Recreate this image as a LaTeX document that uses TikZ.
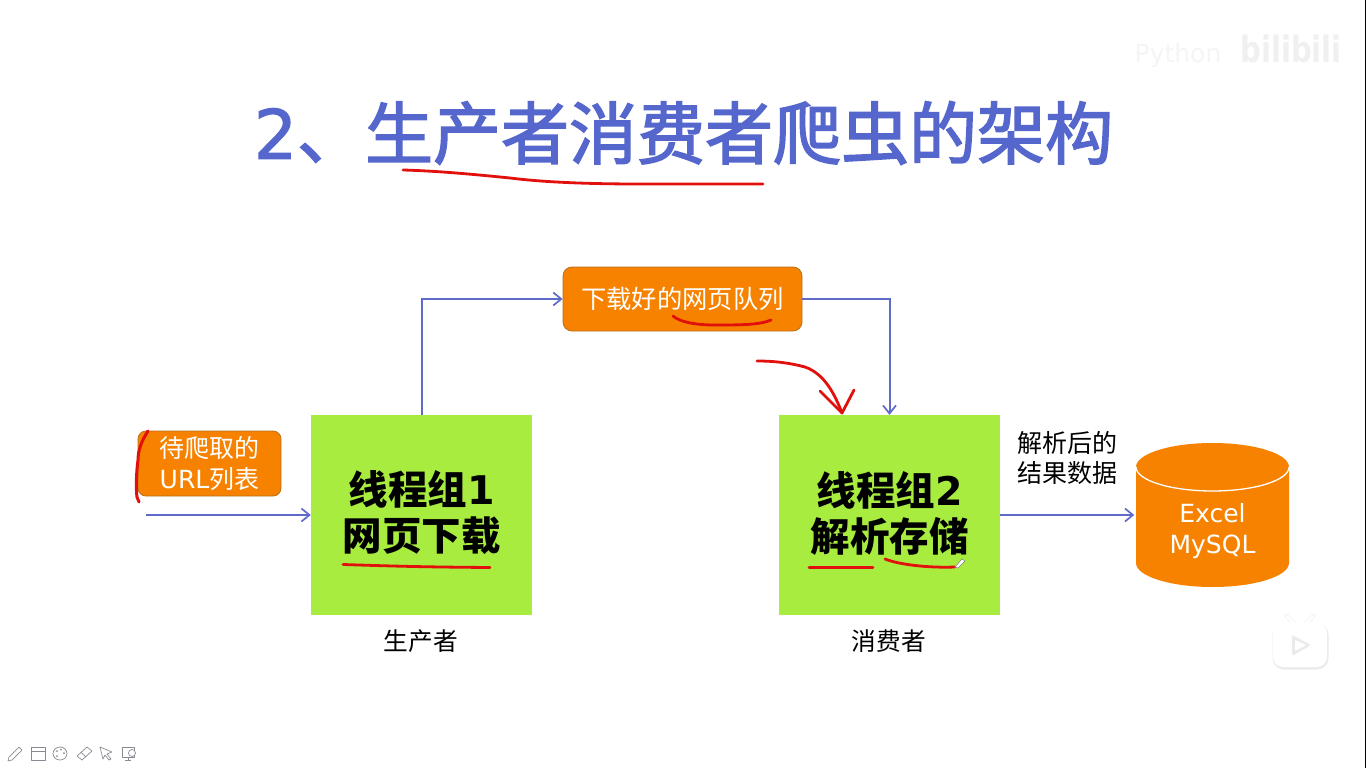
\documentclass[tikz,border=0pt]{standalone}
\usepackage{fontspec}
\usetikzlibrary{arrows.meta}
\setmainfont{Noto Sans CJK SC}
\newfontfamily\latf{DejaVu Sans}
\newfontfamily\titlef[FakeBold=2.2]{Noto Sans CJK SC}
\newfontfamily\titlelat[FakeBold=1.6]{DejaVu Sans}
\newcommand{\lat}[1]{{\latf #1}}
\definecolor{orangeb}{HTML}{F78200}
\definecolor{orangeline}{HTML}{B8701E}
\definecolor{greenb}{HTML}{A8EC40}
\definecolor{bluea}{HTML}{5F6BC8}
\definecolor{titleb}{HTML}{5566CC}
\definecolor{scrib}{HTML}{E2100C}
\definecolor{icong}{HTML}{8A8A92}
\tikzset{
  flow/.style={draw=bluea,line width=2pt,-{Straight Barb[length=8pt,width=13pt,line width=1.7pt]}},
  greenbox/.style={fill=greenb,minimum width=221pt,minimum height=200pt,inner sep=0pt},
  boxtext/.style={inner sep=0pt,align=center,font=\fontsize{39.5}{46}\selectfont\bfseries},
  orangebox/.style={fill=orangeb,draw=orangeline,line width=0.8pt,rounded corners=9pt,inner sep=0pt,align=center,text=white,font=\fontsize{25.3}{31}\selectfont},
  caption/.style={inner sep=0pt,align=center,font=\fontsize{24.7}{30}\selectfont},
  pen/.style={draw=scrib,line width=2.8pt,line cap=round,line join=round},
  tool/.style={draw=icong,line width=0.7pt,line join=round}
}
\begin{document}
\begin{tikzpicture}[x=1pt,y=-1pt]
\useasboundingbox (0,0) rectangle (1366,768);
\fill[white] (0,0) rectangle (1366,768);
\draw[black,line width=1pt] (1365.5,0) -- (1365.5,768);
% watermark
\node (wmp) at (1178,56) [inner sep=0pt,text=black!4,font=\fontsize{25}{30}\selectfont\latf] {Python};
\node (wmb) at (1291,49) [inner sep=0pt,text=black!6,xscale=1,yscale=1.25,transform shape,font=\fontsize{29}{34}\selectfont\latf\bfseries] {bilibili};
% title
\node (title) at (683.5,133) [inner sep=0pt,text=titleb,font=\fontsize{68}{80}\selectfont\titlef] {{\titlelat 2}、生产者消费者爬虫的架构};
% boxes
\node[greenbox] (b1) at (421.5,515) {};
\node[greenbox] (b2) at (889.5,515) {};
\node[boxtext] (t1) at (421.5,513) {线程组\lat{1}\\网页下载};
\node[boxtext] (t2) at (889.5,513) {线程组\lat{2}\\解析存储};
\node[orangebox,minimum width=239pt,minimum height=64pt] (q) at (682.5,299) {下载好的网页队列};
\node[orangebox,minimum width=143pt,minimum height=65pt,rounded corners=8pt,font=\fontsize{25}{31}\selectfont] (u) at (209.5,463.5) {待爬取的\\\lat{URL}列表};
% database
\fill[orangeb] (1136,467) arc[start angle=180,end angle=360,x radius=76.5,y radius=24]
  -- (1289,563) arc[start angle=0,end angle=180,x radius=76.5,y radius=24] -- cycle;
\draw[white,line width=1.3pt] (1136,467) arc[start angle=180,end angle=0,x radius=76.5,y radius=24];
\node[inner sep=0pt,minimum width=153pt,minimum height=144pt,align=center,text=white,font=\fontsize{25}{31}\selectfont\latf] (db) at (1212.5,531) {Excel\\MySQL};
% captions
\node[caption] (c1) at (421,641) {生产者};
\node[caption] (c2) at (889,641) {消费者};
\node[caption,font=\fontsize{25}{30}\selectfont] (c3) at (1067,458) {解析后的\\结果数据};
% connectors
\coordinate (start) at (146,515);
\draw[flow] (start) -- (b1.west);
\draw[flow] (b1.north) |- (q.west);
\draw[flow] (q.east) -| (b2.north);
\draw[flow,shorten >=1.5pt] (b2.east) -- (b2.east -| db.west);
% pen strokes
\draw[pen] (403,170) .. controls (440,171) and (480,175) .. (510,178) .. controls (550,183) and (600,184) .. (640,184) -- (763,184);
\draw[pen,line width=3pt] (148,431) .. controls (142,440) and (138,450) .. (138,460) .. controls (136,475) and (136,490) .. (137,497) -- (139,502);
\draw[pen] (673,316) .. controls (680,322) and (695,325) .. (715,325) .. controls (740,325) and (760,325) .. (771,320);
\draw[pen] (757,361) .. controls (775,361) and (790,363) .. (805,367) .. controls (825,374) and (835,395) .. (842,413);
\draw[pen] (820,391) -- (842,413) -- (854,390);
\draw[pen] (343,564.5) .. controls (390,566) and (420,567) .. (490,567.5);
\draw[pen] (809,567.5) -- (873,567.5);
\draw[pen] (885,559) .. controls (900,565) and (930,568) .. (955,567);
\draw[draw=gray,fill=white,line width=0.5pt] (955,567) -- (962,559) -- (965,561) -- (958,568) -- cycle;
% TV badge
\draw[black!8,line width=4pt,line cap=round] (1287,616) -- (1294,624) (1313,616) -- (1306,624);
\draw[black!8,line width=3pt,rounded corners=10pt] (1274,625) rectangle (1327,668);
\fill[white,rounded corners=10pt] (1273,623) rectangle (1327,667);
\draw[white,line width=3pt,line cap=round] (1287,616) -- (1294,624) (1313,616) -- (1306,624);
\fill[black!8,rounded corners=2pt] (1292,635) -- (1311,645) -- (1292,656) -- cycle;
\fill[white,rounded corners=1pt] (1295,640) -- (1306,645) -- (1295,651) -- cycle;
% toolbar
\draw[tool] (9,757) -- (19,747) -- (22,750) -- (12,760) -- (8,761) -- cycle;
\draw[tool] (31,747) rectangle (45,760) (31,751) -- (45,751);
\draw[tool] (60,753.5) circle[x radius=7,y radius=6.5];
\fill[icong] (57,751) circle(1) (61,749.5) circle(1) (64,753) circle(1) (57,756) circle(1);
\draw[tool] (77,756) -- (87,747) -- (92,751) -- (82,760) -- cycle (81,752.5) -- (86,757);
\draw[tool] (100,747) -- (112,752) -- (107,754) -- (111,759) -- (109,760) -- (105,755) -- (103,759) -- cycle;
\draw[tool] (122,747) rectangle (134,757) (125,760) -- (131,760) (128,757) -- (128,760);
\draw[tool,fill=white] (132,753) circle(3.5);
\end{tikzpicture}
\end{document}
